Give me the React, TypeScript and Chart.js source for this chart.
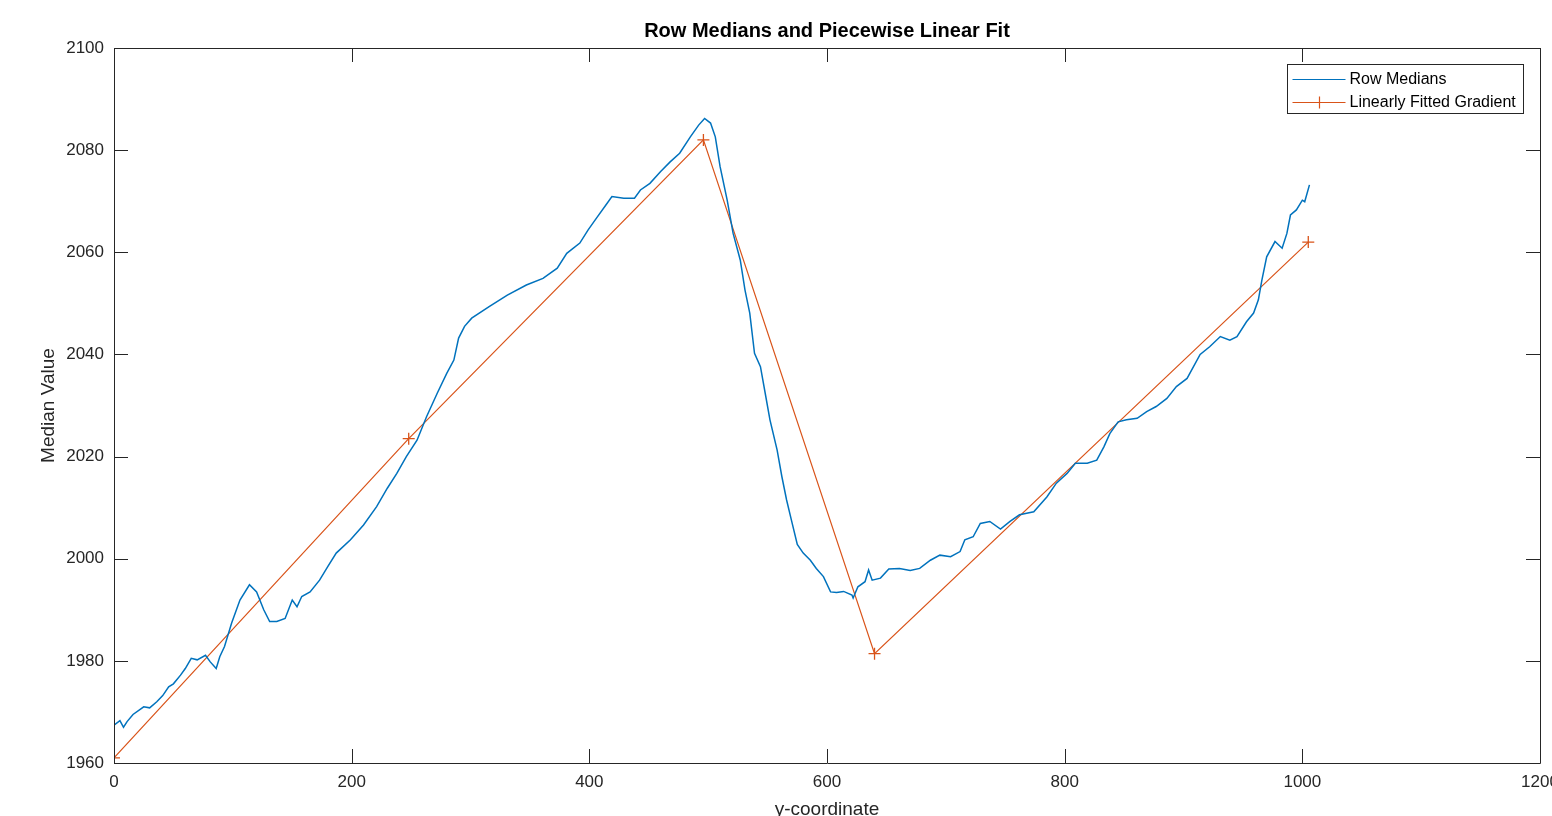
import React, { useEffect, useRef } from "react";
import { Chart, registerables } from "chart.js";

Chart.register(...registerables);

const rowX = [0, 5, 8, 11, 16, 25, 30, 36, 41, 46, 50, 56, 60, 65, 70, 77, 81, 86, 89, 93, 99, 106, 114, 120, 126, 131, 137, 144, 150, 154, 158, 165, 173, 180, 187, 199, 210, 221, 230, 238, 246, 255, 263, 272, 280, 286, 290, 295, 301, 316, 331, 347, 361, 373, 381, 392, 399, 406, 415, 419, 429, 438, 443, 451, 460, 468, 476, 485, 492, 497, 502, 506, 510, 516, 521, 527, 531, 535, 539, 544, 548, 552, 558, 562, 566, 570, 575, 580, 586, 591, 597, 603, 608, 614, 621, 622, 626, 632, 635, 638, 645, 652, 661, 670, 678, 687, 695, 704, 712, 716, 723, 729, 737, 746, 754, 762, 774, 785, 793, 802, 809, 819, 827, 833, 838, 845, 852, 861, 869, 877, 886, 894, 903, 914, 922, 931, 939, 945, 953, 959, 963, 966, 970, 977, 983, 987, 990, 995, 1000, 1002, 1006];
const rowMedian = [1967.4, 1968.3, 1967.0, 1968.1, 1969.5, 1971.0, 1970.8, 1972.0, 1973.2, 1974.9, 1975.5, 1977.2, 1978.5, 1980.5, 1980.2, 1981.1, 1979.8, 1978.5, 1980.8, 1982.8, 1987.4, 1991.9, 1994.9, 1993.5, 1990.0, 1987.7, 1987.7, 1988.3, 1991.9, 1990.6, 1992.6, 1993.5, 1995.8, 1998.5, 2001.1, 2003.7, 2006.6, 2010.2, 2013.8, 2016.7, 2020.0, 2023.2, 2027.8, 2032.4, 2036.3, 2038.9, 2043.2, 2045.5, 2047.1, 2049.4, 2051.6, 2053.6, 2054.9, 2056.9, 2059.8, 2061.8, 2064.4, 2066.7, 2069.6, 2070.9, 2070.6, 2070.6, 2072.2, 2073.5, 2075.8, 2077.7, 2079.4, 2082.6, 2084.9, 2086.2, 2085.3, 2082.6, 2076.8, 2070.2, 2063.7, 2058.5, 2052.6, 2048.1, 2040.2, 2037.6, 2032.4, 2027.2, 2021.3, 2016.1, 2011.5, 2007.6, 2002.8, 2001.1, 1999.7, 1998.1, 1996.5, 1993.5, 1993.4, 1993.6, 1992.9, 1992.3, 1994.5, 1995.5, 1997.8, 1995.8, 1996.2, 1998.0, 1998.1, 1997.7, 1998.1, 1999.7, 2000.7, 2000.4, 2001.4, 2003.7, 2004.3, 2006.9, 2007.3, 2005.8, 2007.3, 2008.6, 2009.2, 2012.1, 2014.8, 2016.7, 2018.7, 2018.7, 2019.3, 2021.9, 2024.5, 2026.8, 2027.2, 2027.5, 2028.8, 2029.8, 2031.4, 2033.7, 2035.3, 2040.0, 2041.5, 2043.5, 2042.8, 2043.5, 2046.4, 2048.1, 2050.7, 2054.6, 2059.1, 2062.1, 2060.8, 2063.7, 2067.3, 2068.3, 2070.2, 2069.9, 2073.2];

const fitX = [0, 248, 496, 640, 1005];
const fitY = [1961.0, 2023.5, 2082.0, 1981.4, 2062.0];

const xTicks = [0, 200, 400, 600, 800, 1000, 1200];
const yTicks = [1960, 1980, 2000, 2020, 2040, 2060, 2080, 2100];

const seriesNames = ["Row Medians", "Linearly Fitted Gradient"];
const titleText = "Row Medians and Piecewise Linear Fit";
const xLabel = "y-coordinate";
const yLabel = "Median Value";

const BLUE = "#0072BD";
const ORANGE = "#D95319";
const AXIS = "#262626";
const FONT = "'Liberation Sans', Arial, Helvetica, sans-serif";

const boxPlugin = {
  id: "matlabBox",
  afterDatasetsDraw(chart: any) {
    const { ctx, chartArea } = chart;
    const { left, right, top, bottom } = chartArea;
    const xs = chart.scales.x;
    const ys = chart.scales.y;
    const tl = 14;
    ctx.save();
    ctx.strokeStyle = AXIS;
    ctx.lineWidth = 1;
    ctx.beginPath();
    ctx.rect(Math.round(left) + 0.5, Math.round(top) + 0.5, Math.round(right - left), Math.round(bottom - top));
    for (const t of xTicks) {
      const px = Math.round(xs.getPixelForValue(t)) + 0.5;
      ctx.moveTo(px, bottom);
      ctx.lineTo(px, bottom - tl);
      ctx.moveTo(px, top);
      ctx.lineTo(px, top + tl);
    }
    for (const t of yTicks) {
      const py = Math.round(ys.getPixelForValue(t)) + 0.5;
      ctx.moveTo(left, py);
      ctx.lineTo(left + tl, py);
      ctx.moveTo(right, py);
      ctx.lineTo(right - tl, py);
    }
    ctx.stroke();

    // legend box
    const bw = 236;
    const bh = 49;
    const bx = Math.round(right - 17 - bw) + 0.5;
    const by = Math.round(top + 16) + 0.5;
    ctx.fillStyle = "#ffffff";
    ctx.fillRect(bx, by, bw, bh);
    ctx.strokeStyle = AXIS;
    ctx.strokeRect(bx, by, bw, bh);
    const rows = [
      { name: seriesNames[0], color: BLUE, marker: false, y: by + 14 },
      { name: seriesNames[1], color: ORANGE, marker: true, y: by + 37 },
    ];
    ctx.font = `16px ${FONT}`;
    ctx.textBaseline = "middle";
    ctx.textAlign = "left";
    for (const r of rows) {
      ctx.beginPath();
      ctx.strokeStyle = r.color;
      ctx.lineWidth = 1.2;
      ctx.moveTo(bx + 5, Math.round(r.y) + 0.5);
      ctx.lineTo(bx + 58, Math.round(r.y) + 0.5);
      if (r.marker) {
        const cx = Math.round(bx + 31) + 0.5;
        const cy = Math.round(r.y) + 0.5;
        ctx.moveTo(cx - 6, cy);
        ctx.lineTo(cx + 6, cy);
        ctx.moveTo(cx, cy - 6);
        ctx.lineTo(cx, cy + 6);
      }
      ctx.stroke();
      ctx.fillStyle = "#000000";
      ctx.fillText(r.name, bx + 62, r.y + 1);
    }
    ctx.restore();
  },
};

export default function App() {
  const ref = useRef<HTMLCanvasElement | null>(null);
  useEffect(() => {
    document.body.style.margin = "0";
    const canvas = ref.current;
    if (!canvas) return;
    const chart = new Chart(canvas, {
      type: "line",
      data: {
        datasets: [
          {
            label: seriesNames[0],
            data: rowX.map((x, i) => ({ x, y: rowMedian[i] })),
            borderColor: BLUE,
            backgroundColor: BLUE,
            borderWidth: 1.5,
            pointRadius: 0,
            tension: 0,
          },
          {
            label: seriesNames[1],
            data: fitX.map((x, i) => ({ x, y: fitY[i] })),
            borderColor: ORANGE,
            backgroundColor: ORANGE,
            borderWidth: 1.2,
            pointStyle: "cross",
            pointRadius: 6,
            pointBorderWidth: 1.3,
            tension: 0,
          },
        ],
      },
      options: {
        responsive: false,
        animation: false,
        maintainAspectRatio: false,
        layout: { padding: { left: 0, right: 12, top: 0, bottom: 0 } },
        plugins: {
          legend: { display: false },
          tooltip: { enabled: false },
          title: {
            display: true,
            text: titleText,
            fullSize: false,
            color: "#000000",
            font: { family: FONT, size: 20, weight: "bold", lineHeight: 1 },
            padding: { top: 21, bottom: 7 },
          },
        },
        scales: {
          x: {
            type: "linear",
            min: 0,
            max: 1200,
            afterBuildTicks: (s: any) => {
              s.ticks = xTicks.map((v) => ({ value: v }));
            },
            afterFit: (s: any) => {
              s.height = 53;
              s.paddingLeft = 0;
              s.paddingRight = 0;
            },
            grid: { display: false, drawTicks: false },
            border: { display: false },
            ticks: {
              color: AXIS,
              font: { family: FONT, size: 17 },
              padding: 9,
              maxRotation: 0,
              autoSkip: false,
              callback: (v: any) => String(v),
            },
            title: {
              display: true,
              text: xLabel,
              color: AXIS,
              font: { family: FONT, size: 19, lineHeight: 1 },
              padding: { top: 0, bottom: -3 },
            },
          },
          y: {
            type: "linear",
            min: 1960,
            max: 2100,
            afterBuildTicks: (s: any) => {
              s.ticks = yTicks.map((v) => ({ value: v }));
            },
            afterFit: (s: any) => {
              s.width = 114;
              s.paddingTop = 0;
              s.paddingBottom = 0;
            },
            grid: { display: false, drawTicks: false },
            border: { display: false },
            ticks: {
              color: AXIS,
              font: { family: FONT, size: 17 },
              padding: 10,
              autoSkip: false,
              callback: (v: any) => String(v),
            },
            title: {
              display: true,
              text: yLabel,
              color: AXIS,
              font: { family: FONT, size: 19, lineHeight: 1 },
              padding: { top: 39, bottom: 0 },
            },
          },
        },
      },
      plugins: [boxPlugin],
    });
    return () => chart.destroy();
  }, []);
  return (
    <div style={{ width: 1552, height: 816, background: "#ffffff" }}>
      <canvas ref={ref} width={1552} height={816} style={{ display: "block" }} />
    </div>
  );
}
